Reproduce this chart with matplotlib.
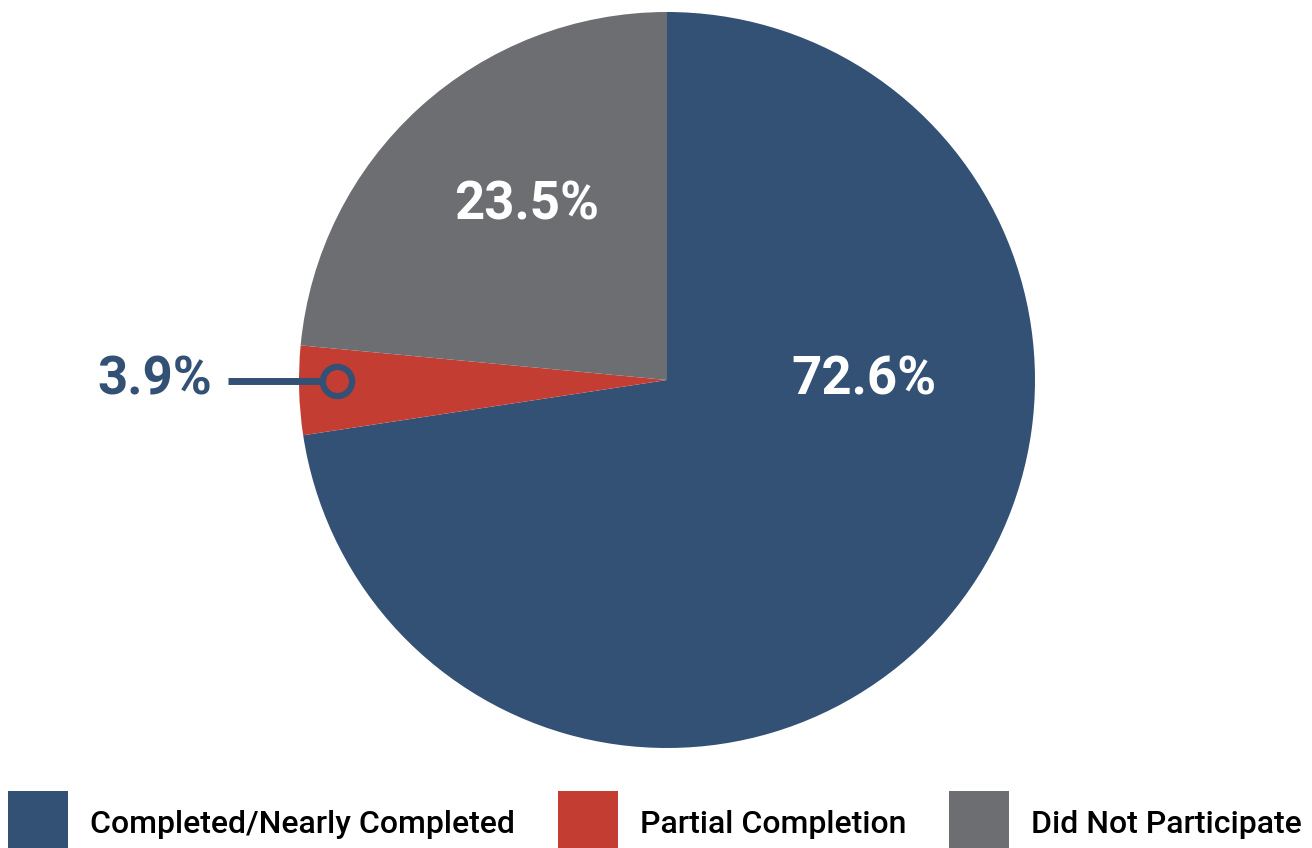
import matplotlib
matplotlib.use("Agg")
import matplotlib.pyplot as plt
from matplotlib.patches import Patch

plt.rcParams['font.family'] = ['Roboto', 'DejaVu Sans']

categories = ["Completed/Nearly Completed", "Partial Completion", "Did Not Participate"]
shares = [72.6, 3.9, 23.5]
colors = ["#335075", "#C33D33", "#6D6E71"]

W, H = 1312, 848
fig = plt.figure(figsize=(W / 100, H / 100), dpi=100)
ax = fig.add_axes([0, 0, 1, 1])

# pie centre / radius in pixel units (y measured from bottom)
cx, cy, r = 667, H - 380, 368
ax.pie(shares, colors=colors, startangle=90, counterclock=False,
       center=(cx, cy), radius=r, frame=True,
       wedgeprops=dict(linewidth=0))
ax.set_xlim(0, W)
ax.set_ylim(0, H)
ax.set_aspect('equal')
ax.axis('off')

# big labels inside
ax.text(864, H - 380, "72.6%", color="white", fontsize=38, fontweight="bold",
        ha="center", va="center")
ax.text(527, H - 205, "23.5%", color="white", fontsize=38, fontweight="bold",
        ha="center", va="center")

# callout for the thin slice
ax.text(155, H - 380, "3.9%", color=colors[0], fontsize=38, fontweight="bold",
        ha="center", va="center")
ax.plot([228, 322], [H - 381, H - 381], color=colors[0], lw=5, solid_capstyle="butt")
ax.plot([337], [H - 381], marker="o", ms=21, mfc=colors[1], mec=colors[0], mew=4.5)

handles = [Patch(facecolor=c, edgecolor="none") for c in colors]
fs = 23
fpx = fs * 100 / 72
sq_h = 64
hh = (sq_h - 0.245 * fpx) / (0.65 * fpx)
fig.legend(handles, categories, loc="upper left",
           bbox_to_anchor=(8 / W, 1 - 791 / H), ncol=3, frameon=False,
           prop=dict(family="Roboto", weight="medium", size=fs),
           handlelength=60 / fpx, handleheight=hh,
           handletextpad=22 / fpx, columnspacing=43 / fpx,
           borderpad=0, borderaxespad=0)

fig.savefig("out.png", dpi=100)
